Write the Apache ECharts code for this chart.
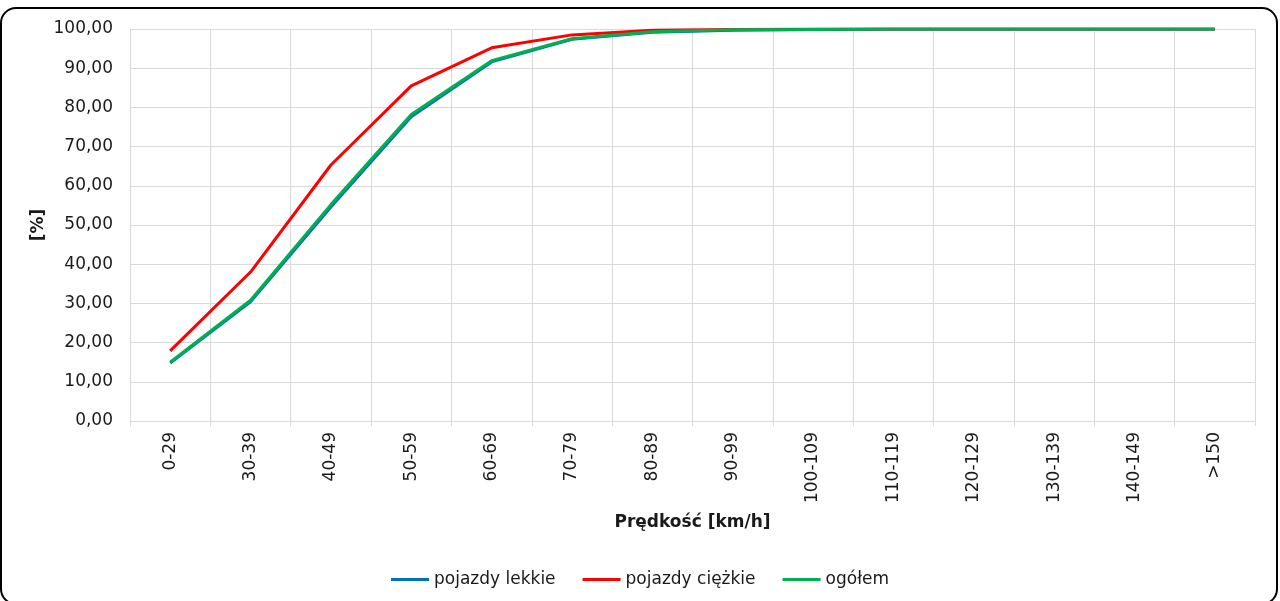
<!DOCTYPE html>
<html>
<head>
<meta charset="utf-8">
<script src="https://cdn.jsdelivr.net/npm/echarts@6/dist/echarts.min.js"></script>
<style>
html,body{margin:0;padding:0;background:#fff;}
#wrap{position:relative;width:1280px;height:601px;overflow:hidden;}
#chart{position:absolute;left:0;top:0;width:1280px;height:601px;}
#frame{position:absolute;left:0;top:7px;width:1274px;height:594px;border:2px solid #000;border-radius:16px;pointer-events:none;}
</style>
</head>
<body>
<div id="wrap"><div id="chart"></div><div id="frame"></div></div>
<script>
const categories = ['0-29','30-39','40-49','50-59','60-69','70-79','80-89','90-99','100-109','110-119','120-129','130-139','140-149','>150'];
const lekkie  = [14.8, 30.4, 54.6, 77.6, 91.6, 97.4, 99.2, 99.7, 99.9, 100, 100, 100, 100, 100];
const ciezkie = [17.9, 38.0, 65.3, 85.5, 95.2, 98.5, 99.7, 99.9, 100, 100, 100, 100, 100, 100];
const ogolem  = [15.0, 30.8, 55.2, 78.2, 91.9, 97.5, 99.3, 99.8, 99.9, 100, 100, 100, 100, 100];
const seriesNames = ['pojazdy lekkie', 'pojazdy ciężkie', 'ogółem'];
const xTitle = 'Prędkość [km/h]';
const yTitle = '[%]';

const FONT = 'DejaVu Sans';
const chart = echarts.init(document.getElementById('chart'), null, {renderer: 'canvas'});
const colors = ['#0070C0', '#FF0000', '#00B050'];
const data = [lekkie, ciezkie, ogolem];

chart.setOption({
  animation: false,
  textStyle: {fontFamily: FONT},
  grid: {left: 130, right: 25, top: 29, bottom: 180, containLabel: false},
  legend: {
    data: seriesNames,
    left: 'center',
    top: 566,
    icon: 'rect',
    itemWidth: 38,
    itemHeight: 3,
    itemGap: 27,
    textStyle: {fontFamily: FONT, fontSize: 17, color: '#1a1a1a'}
  },
  xAxis: {
    type: 'category',
    data: categories,
    boundaryGap: true,
    name: xTitle,
    nameLocation: 'middle',
    nameGap: 93,
    nameMoveOverlap: false,
    nameTextStyle: {fontFamily: FONT, fontSize: 17, fontWeight: 'bold', color: '#1a1a1a'},
    axisLine: {show: true, lineStyle: {color: '#d9d9d9', width: 1}},
    axisTick: {show: true, length: 5, lineStyle: {color: '#d9d9d9'}},
    splitLine: {show: true, lineStyle: {color: '#d9d9d9', width: 1}},
    axisLabel: {rotate: 90, margin: 11, fontFamily: FONT, fontSize: 17, color: '#1a1a1a'}
  },
  yAxis: {
    type: 'value',
    min: 0, max: 100, interval: 10,
    name: yTitle,
    nameLocation: 'middle',
    nameGap: 83,
    nameMoveOverlap: false,
    nameRotate: 90,
    nameTextStyle: {fontFamily: FONT, fontSize: 17, fontWeight: 'bold', color: '#1a1a1a'},
    axisLine: {show: false},
    axisTick: {show: false},
    splitLine: {show: true, lineStyle: {color: '#d9d9d9', width: 1}},
    axisLabel: {margin: 17, fontFamily: FONT, fontSize: 17, color: '#1a1a1a',
      formatter: v => v.toFixed(2).replace('.', ',')}
  },
  series: seriesNames.map((n, i) => ({
    name: n,
    type: 'line',
    data: data[i],
    showSymbol: false,
    symbol: 'none',
    lineStyle: {color: colors[i], width: 3},
    itemStyle: {color: colors[i]},
    z: 2 + i
  }))
});
</script>
</body>
</html>
